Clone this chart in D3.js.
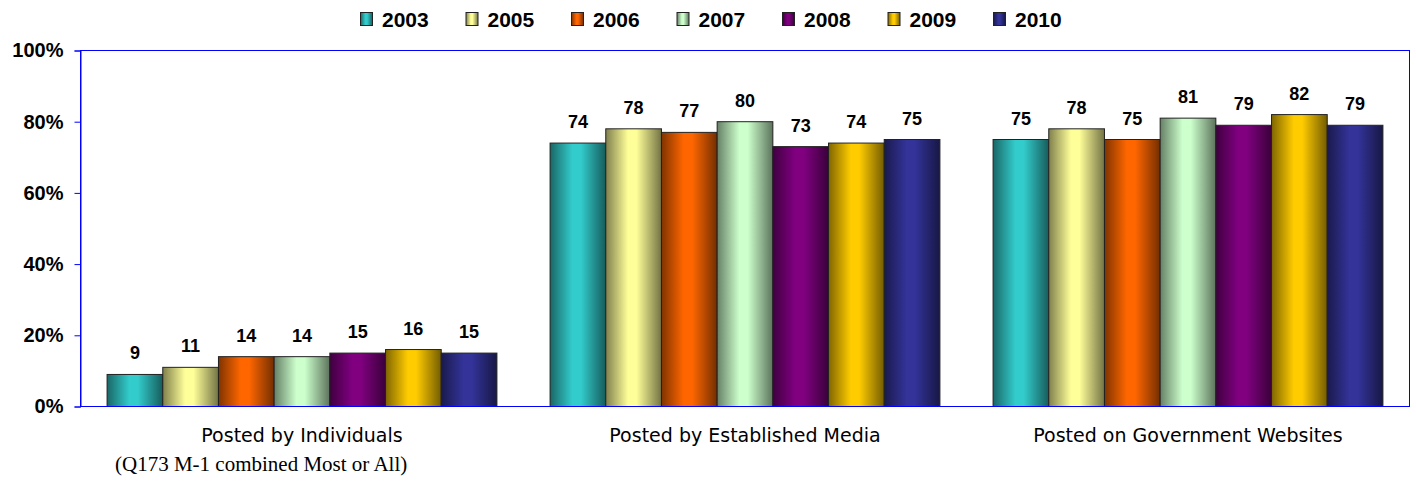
<!DOCTYPE html>
<html><head><meta charset="utf-8">
<script src="https://cdn.jsdelivr.net/npm/d3@7"></script>
<style>html,body{margin:0;padding:0;background:#fff;}svg{display:block;}</style>
</head><body>
<svg id="chart" width="1416" height="484"></svg>
<script>
const categories = ["Posted by Individuals", "Posted by Established Media", "Posted on Government Websites"];
const years = ["2003", "2005", "2006", "2007", "2008", "2009", "2010"];
const colors = ["#33CCCC", "#FFFF99", "#FF6600", "#CCFFCC", "#800080", "#FFCC00", "#333399"];
const v2003 = [9, 74, 75];
const v2005 = [11, 78, 78];
const v2006 = [14, 77, 75];
const v2007 = [14, 80, 81];
const v2008 = [15, 73, 79];
const v2009 = [16, 74, 82];
const v2010 = [15, 75, 79];
const yTicks = [0, 20, 40, 60, 80, 100];
const footnote = "(Q173 M-1 combined Most or All)";

(function () {
const series = [v2003, v2005, v2006, v2007, v2008, v2009, v2010];
const svg = d3.select("#chart");
const pLeft = 80.5, pRight = 1409.5, pTop = 50.5, pBottom = 406.5;

const x0 = d3.scaleBand().domain(categories).range([pLeft, pRight]).paddingInner(0.12).paddingOuter(0.06);
const x1 = d3.scaleBand().domain(years).range([0, x0.bandwidth()]).padding(0);
const y = d3.scaleLinear().domain([0, 100]).range([pBottom, pTop]);

const defs = svg.append("defs");
years.forEach((yr, i) => {
  const c = d3.color(colors[i]);
  const g = defs.append("linearGradient").attr("id", "g" + yr).attr("x1", "0%").attr("x2", "100%").attr("y1", "0%").attr("y2", "0%");
  g.append("stop").attr("offset", "0%").attr("stop-color", d3.interpolateRgb(c, "#000")(0.5));
  g.append("stop").attr("offset", "40%").attr("stop-color", c.formatHex());
  g.append("stop").attr("offset", "55%").attr("stop-color", c.formatHex());
  g.append("stop").attr("offset", "100%").attr("stop-color", d3.interpolateRgb(c, "#000")(0.55));
});

svg.append("rect").attr("x", pLeft).attr("y", pTop).attr("width", pRight - pLeft).attr("height", pBottom - pTop)
  .attr("fill", "none").attr("stroke", "#0000FF").attr("stroke-width", 1);

const yAxis = d3.axisLeft(y).tickValues(yTicks).tickFormat(d => d + "%").tickSize(6).tickPadding(11);
const ga = svg.append("g").attr("transform", `translate(${pLeft},0)`).call(yAxis);
ga.select(".domain").attr("stroke", "#0000FF");
ga.selectAll(".tick line").attr("stroke", "#0000FF");
ga.selectAll(".tick text").attr("font-family", "Liberation Sans, Arial, sans-serif").attr("font-weight", "bold")
  .attr("font-size", "20px").attr("fill", "#000");

categories.forEach((cat, ci) => {
  const g = svg.append("g").attr("transform", `translate(${x0(cat)},0)`);
  years.forEach((yr, si) => {
    const v = series[si][ci];
    g.append("rect").attr("x", x1(yr)).attr("y", y(v)).attr("width", x1.bandwidth()).attr("height", y(0) - y(v))
      .attr("fill", `url(#g${yr})`).attr("stroke", "#222").attr("stroke-width", 1);
    g.append("text").attr("x", x1(yr) + x1.bandwidth() / 2).attr("y", y(v) - 15)
      .attr("text-anchor", "middle").attr("font-family", "Liberation Sans, Arial, sans-serif").attr("font-weight", "bold")
      .attr("font-size", "18px").attr("fill", "#000").text(v);
  });
});
svg.append("line").attr("x1", pLeft).attr("x2", pRight).attr("y1", pBottom).attr("y2", pBottom).attr("stroke", "#0000FF");

svg.selectAll("text.cat").data(categories).enter().append("text").attr("class", "cat")
  .attr("x", d => x0(d) + x0.bandwidth() / 2).attr("y", 442).attr("text-anchor", "middle")
  .attr("font-family", "DejaVu Sans, Verdana, sans-serif").attr("font-size", "19px").attr("fill", "#000").text(d => d);

svg.append("text").attr("x", 115).attr("y", 471).attr("font-family", "Liberation Serif, serif").attr("font-size", "21px")
  .attr("fill", "#000").text(footnote);

const legX = 360, legStep = 105.5;
const leg = svg.append("g");
years.forEach((yr, i) => {
  const gx = legX + i * legStep;
  leg.append("rect").attr("x", gx + 0.5).attr("y", 12.5).attr("width", 12).attr("height", 13)
    .attr("fill", `url(#g${yr})`).attr("stroke", "#222");
  leg.append("text").attr("x", gx + 22).attr("y", 27).attr("font-family", "Liberation Sans, Arial, sans-serif")
    .attr("font-weight", "bold").attr("font-size", "21px").attr("fill", "#000").text(yr);
});
})();
</script>
</body></html>
